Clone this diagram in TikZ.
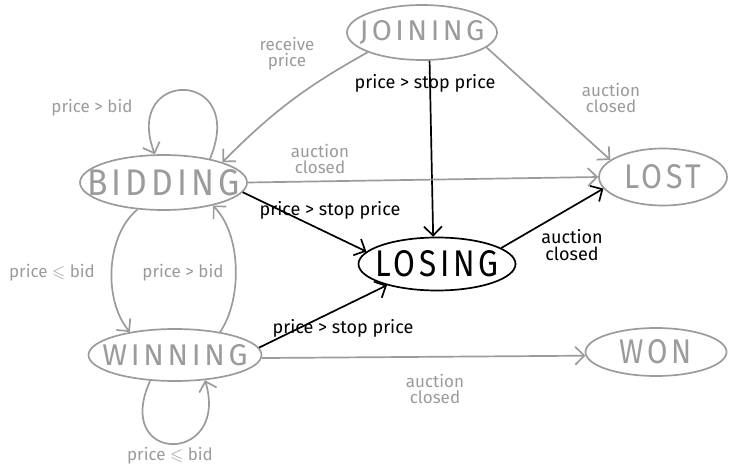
\documentclass[tikz,border=0pt]{standalone}
\usepackage{fontspec}
\usepackage{amssymb}
\usepackage{graphicx}
\setmainfont{Fira Sans}
\newfontfamily\capsfont[LetterSpace=12]{Fira Sans}
\usetikzlibrary{shapes.geometric,arrows.meta}
\definecolor{sk}{RGB}{155,155,155}
\begin{document}
\begin{tikzpicture}[x=1pt,y=1pt,
  st/.style={ellipse, draw=sk, line width=1.7pt, inner sep=0pt},
  stk/.style={st, draw=black},
  stt/.style={text=sk, font=\capsfont, inner sep=0pt},
  sttk/.style={stt, text=black},
  ed/.style={draw=sk, line width=1.7pt, -{Straight Barb[length=9pt,width=18pt]}},
  edk/.style={ed, draw=black},
  lb/.style={text=sk, font=\fontsize{17}{16}\selectfont, align=center, inner sep=0pt},
  lbk/.style={lb, text=black, font=\fontsize{18}{17}\selectfont}
]
\path[use as bounding box] (0,0) rectangle (729,-468);

% states
\node[st, minimum width=150, minimum height=55,
  label={[stt]center:\resizebox{125pt}{20pt}{JOINING}}] (join) at (422,-32.5) {};
\node[st, minimum width=167, minimum height=55,
  label={[stt]center:\resizebox{152pt}{26pt}{BIDDING}}] (bid) at (163.5,-182.5) {};
\node[st, minimum width=128, minimum height=57,
  label={[stt]center:\resizebox{77pt}{24pt}{LOST}}] (lost) at (663,-177) {};
\node[stk, minimum width=157, minimum height=53,
  label={[sttk]center:\resizebox{123pt}{26pt}{LOSING}}] (los) at (437,-264) {};
\node[st, minimum width=173, minimum height=52,
  label={[stt]center:\resizebox{145pt}{21pt}{WINNING}}] (win) at (175,-355) {};
\node[st, minimum width=141, minimum height=48,
  label={[stt]center:\resizebox{72pt}{24pt}{WON}}] (won) at (656,-352) {};

% transitions
\draw[ed] (join.200) to[bend right=8] (bid.19);
\draw[edk] (join.285) -- (los.98);
\draw[ed] (join.347) -- (lost.162);
\draw[ed] (bid.27) .. controls (248,-68) and (122,-68) .. (bid.107);
\draw[ed] (bid.0) -- (lost.180);
\draw[edk] (bid.-7) -- (los.170);
\draw[ed] (bid.226) .. controls (106,-235) and (103,-300) .. (win.153);
\draw[ed] (win.27) .. controls (242,-300) and (242,-235) .. (bid.335);
\draw[ed] (win.226) .. controls (112,-465) and (230,-465) .. (win.320);
\draw[edk] (win.5) -- (los.203);
\draw[ed] (win.-2) -- (won.183);
\draw[edk] (los.14) -- (lost.191);

% labels
\node[lb] (l1) at (287,-54) {receive\\price};
\node[lbk] (l2) at (425,-83) {price > stop price};
\node[lb] (l3) at (611,-98) {auction\\closed};
\node[lb] (l4) at (92,-108) {price > bid};
\node[lb] (l5) at (320,-159) {auction\\closed};
\node[lbk] (l6) at (330,-210) {price > stop price};
\node[lb] (l7) at (52,-273) {price $\leqslant$ bid};
\node[lb] (l8) at (183,-273) {price > bid};
\node[lbk] (l9) at (572,-245) {auction\\closed};
\node[lbk] (l10) at (343,-328) {price > stop price};
\node[lb] (l11) at (435,-389) {auction\\closed};
\node[lb] (l12) at (170,-456) {price $\leqslant$ bid};
\end{tikzpicture}
\end{document}
